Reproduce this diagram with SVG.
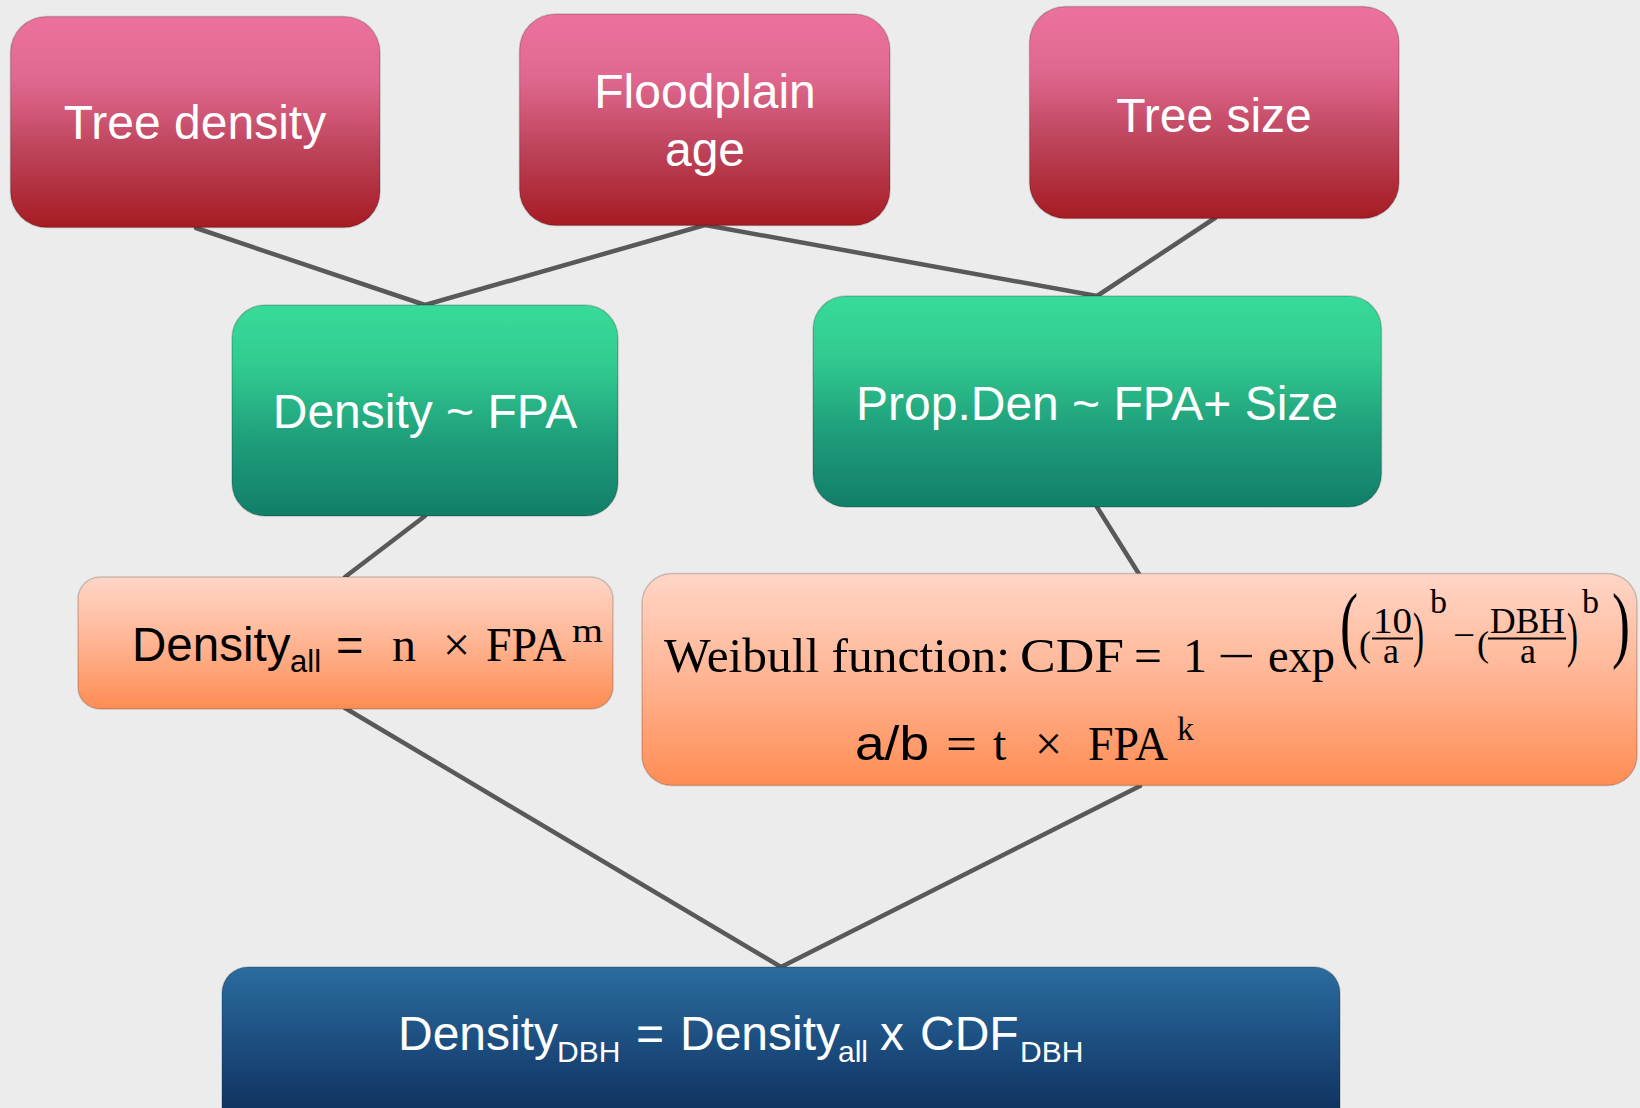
<svg xmlns="http://www.w3.org/2000/svg" width="1640" height="1108" viewBox="0 0 1640 1108">
  <defs>
    <linearGradient id="gPink" x1="0" y1="0" x2="0" y2="1">
      <stop offset="0" stop-color="#EC729D"/>
      <stop offset="0.3" stop-color="#E06890"/>
      <stop offset="0.65" stop-color="#BC4258"/>
      <stop offset="1" stop-color="#A61B22"/>
    </linearGradient>
    <linearGradient id="gGreen" x1="0" y1="0" x2="0" y2="1">
      <stop offset="0" stop-color="#38DB99"/>
      <stop offset="0.3" stop-color="#31C990"/>
      <stop offset="0.65" stop-color="#1E9D7A"/>
      <stop offset="1" stop-color="#127E68"/>
    </linearGradient>
    <linearGradient id="gOrange" x1="0" y1="0" x2="0" y2="1">
      <stop offset="0" stop-color="#FFD5C6"/>
      <stop offset="0.45" stop-color="#FFB898"/>
      <stop offset="1" stop-color="#FF8C54"/>
    </linearGradient>
    <linearGradient id="gBlue" x1="0" y1="0" x2="0" y2="1">
      <stop offset="0" stop-color="#2B6C9F"/>
      <stop offset="0.5" stop-color="#1B4A7C"/>
      <stop offset="1" stop-color="#0B2852"/>
    </linearGradient>
  </defs>
  <style>
    .box { stroke: rgba(0,0,0,0.18); stroke-width: 1.5; }
    .lbl { font-family: "Liberation Sans", Arial, sans-serif; font-size: 48px; fill: #FFFFFF; text-anchor: middle; }
    .sans { font-family: "Liberation Sans", Arial, sans-serif; fill: #000000; }
    .wsans { font-family: "Liberation Sans", Arial, sans-serif; fill: #FFFFFF; }
    .ser { font-family: "Liberation Serif", "Times New Roman", serif; fill: #000000; }
    .conn { stroke: #595959; stroke-width: 4.5; stroke-linecap: round; fill: none; }
    .bar { stroke: #000000; stroke-width: 2.2; }
  </style>
  <rect x="0" y="0" width="1640" height="1108" fill="#ECECEC"/>

  <g id="connectors">
    <line class="conn" x1="196" y1="228" x2="425" y2="305"/>
    <line class="conn" x1="705" y1="225" x2="425" y2="305"/>
    <line class="conn" x1="705" y1="225" x2="1097" y2="296"/>
    <line class="conn" x1="1215" y1="218" x2="1097" y2="296"/>
    <line class="conn" x1="425" y1="516" x2="345" y2="577"/>
    <line class="conn" x1="1097" y1="507" x2="1139" y2="574"/>
    <line class="conn" x1="345" y1="708" x2="781" y2="967"/>
    <line class="conn" x1="1140" y1="786" x2="781" y2="967"/>
  </g>

  <g id="tree-density">
    <rect class="box" x="10.5" y="16.5" width="369.5" height="211" rx="36" fill="url(#gPink)"/>
    <text class="lbl" x="195" y="139">Tree density</text>
  </g>
  <g id="floodplain-age">
    <rect class="box" x="519.5" y="14" width="370.5" height="211.5" rx="36" fill="url(#gPink)"/>
    <text class="lbl" x="705" y="108">Floodplain</text>
    <text class="lbl" x="705" y="166">age</text>
  </g>
  <g id="tree-size">
    <rect class="box" x="1029.5" y="6.5" width="369.5" height="212" rx="36" fill="url(#gPink)"/>
    <text class="lbl" x="1214" y="132">Tree size</text>
  </g>

  <g id="density-fpa">
    <rect class="box" x="232" y="305" width="386" height="211" rx="33" fill="url(#gGreen)"/>
    <text class="lbl" x="425" y="428">Density ~ FPA</text>
  </g>
  <g id="propden">
    <rect class="box" x="813" y="296" width="568.5" height="211" rx="33" fill="url(#gGreen)"/>
    <text class="lbl" x="1097" y="420">Prop.Den ~ FPA+ Size</text>
  </g>

  <g id="density-all">
    <rect class="box" x="78" y="577" width="535" height="132" rx="22" fill="url(#gOrange)"/>
    <text class="sans" x="132" y="661" font-size="47.5">Density</text>
    <text class="sans" x="290" y="672" font-size="31">all</text>
    <text class="sans" x="336" y="661" font-size="47">=</text>
    <text class="ser" x="392" y="661" font-size="48">n</text>
    <text class="ser" x="443" y="661" font-size="48">×</text>
    <text class="ser" x="486" y="661" font-size="48" textLength="80" lengthAdjust="spacingAndGlyphs">FPA</text>
    <text class="ser" x="572" y="642" font-size="34" textLength="31" lengthAdjust="spacingAndGlyphs">m</text>
  </g>

  <g id="weibull">
    <rect class="box" x="642" y="573.5" width="995" height="212" rx="30" fill="url(#gOrange)"/>
    <text class="ser" x="664" y="672" font-size="48" textLength="346" lengthAdjust="spacingAndGlyphs">Weibull function:</text>
    <text class="ser" x="1020" y="672" font-size="48" textLength="104" lengthAdjust="spacingAndGlyphs">CDF</text>
    <text class="ser" x="1134" y="672" font-size="48" textLength="28" lengthAdjust="spacingAndGlyphs">=</text>
    <text class="ser" x="1183" y="672" font-size="48">1</text>
    <text class="ser" x="1217" y="672" font-size="48" textLength="38" lengthAdjust="spacingAndGlyphs">−</text>
    <text class="ser" x="1268" y="672" font-size="48" textLength="67" lengthAdjust="spacingAndGlyphs">exp</text>
    <text class="ser" x="1340" y="652" font-size="84" textLength="18" lengthAdjust="spacingAndGlyphs">(</text>
    <text class="ser" x="1359" y="656" font-size="36">(</text>
    <text class="ser" x="1373" y="633" font-size="36" textLength="39" lengthAdjust="spacingAndGlyphs">10</text>
    <line class="bar" x1="1372" y1="638.5" x2="1413" y2="638.5"/>
    <text class="ser" x="1383" y="663" font-size="36">a</text>
    <text class="ser" x="1413" y="655" font-size="62" textLength="11" lengthAdjust="spacingAndGlyphs">)</text>
    <text class="ser" x="1430" y="613" font-size="34">b</text>
    <text class="ser" x="1453" y="647" font-size="36" textLength="22" lengthAdjust="spacingAndGlyphs">−</text>
    <text class="ser" x="1477" y="656" font-size="36">(</text>
    <text class="ser" x="1490" y="633" font-size="36" textLength="75" lengthAdjust="spacingAndGlyphs">DBH</text>
    <line class="bar" x1="1488" y1="638.5" x2="1566" y2="638.5"/>
    <text class="ser" x="1520" y="663" font-size="36">a</text>
    <text class="ser" x="1567" y="655" font-size="62" textLength="11" lengthAdjust="spacingAndGlyphs">)</text>
    <text class="ser" x="1582" y="613" font-size="34">b</text>
    <text class="ser" x="1612" y="652" font-size="84" textLength="18" lengthAdjust="spacingAndGlyphs">)</text>
    <text class="sans" x="855" y="760" font-size="49" textLength="74" lengthAdjust="spacingAndGlyphs">a/b</text>
    <text class="ser" x="946" y="760" font-size="48" textLength="31" lengthAdjust="spacingAndGlyphs">=</text>
    <text class="ser" x="993" y="760" font-size="48">t</text>
    <text class="ser" x="1035" y="760" font-size="48">×</text>
    <text class="ser" x="1088" y="760" font-size="48" textLength="80" lengthAdjust="spacingAndGlyphs">FPA</text>
    <text class="ser" x="1177" y="740" font-size="34">k</text>
  </g>

  <g id="density-dbh">
    <rect class="box" x="222" y="967" width="1118" height="170" rx="26" fill="url(#gBlue)"/>
    <text class="wsans" x="398" y="1050" font-size="48">Density</text>
    <text class="wsans" x="557" y="1062" font-size="30">DBH</text>
    <text class="wsans" x="636" y="1050" font-size="48">=</text>
    <text class="wsans" x="680" y="1050" font-size="48">Density</text>
    <text class="wsans" x="838" y="1062" font-size="30">all</text>
    <text class="wsans" x="880" y="1050" font-size="48">x</text>
    <text class="wsans" x="920" y="1050" font-size="48">CDF</text>
    <text class="wsans" x="1020" y="1062" font-size="30">DBH</text>
  </g>
</svg>
